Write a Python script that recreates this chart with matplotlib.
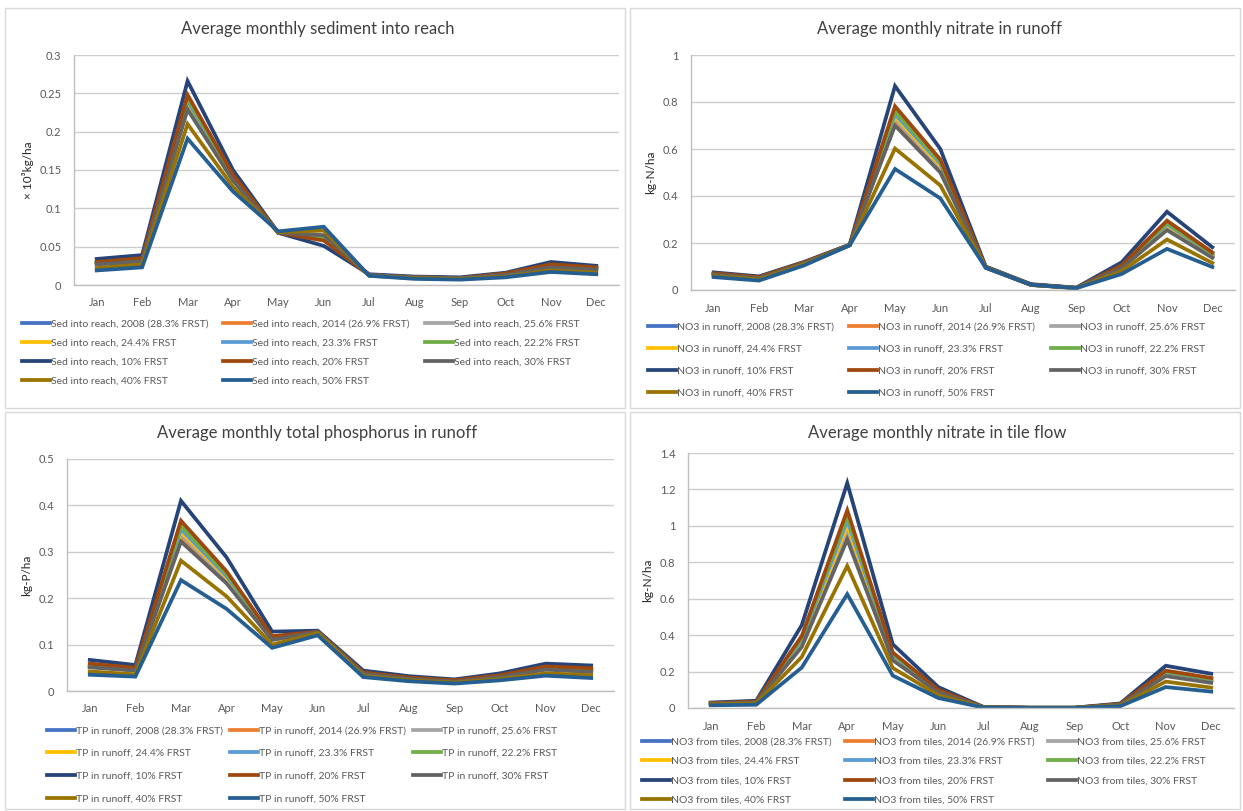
import matplotlib
matplotlib.use("Agg")
import matplotlib.pyplot as plt
from matplotlib.patches import Rectangle
from matplotlib.ticker import MultipleLocator, FuncFormatter

plt.rcParams['font.family'] = ['Lato', 'DejaVu Sans']

W, H = 1243, 811

MONTHS = ["Jan", "Feb", "Mar", "Apr", "May", "Jun", "Jul", "Aug", "Sep", "Oct", "Nov", "Dec"]

SCENARIOS = ["2008 (28.3% FRST)", "2014 (26.9% FRST)", "25.6% FRST", "24.4% FRST",
             "23.3% FRST", "22.2% FRST", "10% FRST", "20% FRST", "30% FRST",
             "40% FRST", "50% FRST"]

# Excel 2013 default palette, in series order
COLORS = ["#4472C4", "#ED7D31", "#A5A5A5", "#FFC000", "#5B9BD5", "#70AD47",
          "#264478", "#9E480E", "#636363", "#997300", "#255E91"]

# values, one row per scenario (same order as SCENARIOS)
SED = [
    [0.027, 0.031, 0.231, 0.137, 0.068, 0.064, 0.013, 0.010, 0.009, 0.013, 0.024, 0.020],
    [0.028, 0.032, 0.233, 0.138, 0.068, 0.064, 0.013, 0.010, 0.009, 0.013, 0.024, 0.021],
    [0.028, 0.032, 0.236, 0.139, 0.068, 0.063, 0.013, 0.010, 0.009, 0.014, 0.025, 0.021],
    [0.028, 0.033, 0.238, 0.140, 0.068, 0.062, 0.013, 0.010, 0.009, 0.014, 0.025, 0.021],
    [0.029, 0.033, 0.240, 0.141, 0.068, 0.061, 0.013, 0.010, 0.009, 0.014, 0.025, 0.022],
    [0.029, 0.034, 0.243, 0.142, 0.068, 0.060, 0.013, 0.010, 0.009, 0.014, 0.026, 0.022],
    [0.034, 0.039, 0.266, 0.150, 0.068, 0.051, 0.014, 0.011, 0.010, 0.016, 0.030, 0.025],
    [0.030, 0.035, 0.248, 0.144, 0.068, 0.058, 0.013, 0.010, 0.009, 0.015, 0.027, 0.023],
    [0.027, 0.031, 0.229, 0.136, 0.068, 0.065, 0.013, 0.010, 0.009, 0.013, 0.023, 0.020],
    [0.022, 0.027, 0.210, 0.128, 0.069, 0.071, 0.012, 0.009, 0.008, 0.011, 0.019, 0.016],
    [0.019, 0.023, 0.191, 0.122, 0.070, 0.076, 0.012, 0.008, 0.007, 0.010, 0.017, 0.014],
]

NO3_RUNOFF = [
    [0.067, 0.051, 0.115, 0.191, 0.705, 0.508, 0.094, 0.022, 0.009, 0.094, 0.260, 0.141],
    [0.068, 0.052, 0.115, 0.191, 0.716, 0.515, 0.095, 0.022, 0.009, 0.096, 0.265, 0.144],
    [0.068, 0.052, 0.116, 0.191, 0.728, 0.522, 0.097, 0.022, 0.009, 0.097, 0.270, 0.147],
    [0.069, 0.053, 0.116, 0.191, 0.738, 0.530, 0.098, 0.023, 0.009, 0.098, 0.275, 0.150],
    [0.069, 0.053, 0.117, 0.192, 0.748, 0.538, 0.098, 0.023, 0.009, 0.100, 0.280, 0.152],
    [0.070, 0.054, 0.117, 0.192, 0.760, 0.545, 0.098, 0.023, 0.009, 0.102, 0.285, 0.155],
    [0.075, 0.058, 0.120, 0.193, 0.868, 0.600, 0.100, 0.025, 0.010, 0.118, 0.333, 0.182],
    [0.071, 0.055, 0.118, 0.192, 0.782, 0.555, 0.098, 0.023, 0.009, 0.105, 0.295, 0.160],
    [0.066, 0.050, 0.114, 0.191, 0.700, 0.500, 0.097, 0.022, 0.009, 0.093, 0.255, 0.137],
    [0.060, 0.045, 0.110, 0.190, 0.602, 0.445, 0.096, 0.021, 0.008, 0.080, 0.215, 0.115],
    [0.055, 0.040, 0.105, 0.190, 0.515, 0.390, 0.095, 0.022, 0.008, 0.068, 0.175, 0.098],
]

TP_RUNOFF = [
    [0.052, 0.045, 0.326, 0.235, 0.111, 0.127, 0.038, 0.027, 0.021, 0.031, 0.048, 0.043],
    [0.053, 0.045, 0.331, 0.238, 0.112, 0.127, 0.038, 0.027, 0.021, 0.031, 0.049, 0.044],
    [0.054, 0.046, 0.337, 0.241, 0.114, 0.127, 0.038, 0.027, 0.021, 0.032, 0.050, 0.045],
    [0.055, 0.047, 0.343, 0.245, 0.115, 0.128, 0.039, 0.028, 0.022, 0.032, 0.050, 0.045],
    [0.056, 0.048, 0.349, 0.248, 0.116, 0.128, 0.039, 0.028, 0.022, 0.033, 0.051, 0.046],
    [0.057, 0.049, 0.356, 0.252, 0.117, 0.128, 0.039, 0.028, 0.022, 0.033, 0.052, 0.047],
    [0.067, 0.056, 0.410, 0.288, 0.128, 0.130, 0.044, 0.032, 0.025, 0.038, 0.059, 0.055],
    [0.059, 0.050, 0.367, 0.258, 0.118, 0.128, 0.040, 0.029, 0.023, 0.034, 0.053, 0.049],
    [0.051, 0.044, 0.322, 0.232, 0.110, 0.127, 0.037, 0.026, 0.020, 0.030, 0.046, 0.041],
    [0.042, 0.036, 0.281, 0.204, 0.100, 0.125, 0.033, 0.023, 0.018, 0.026, 0.038, 0.034],
    [0.035, 0.031, 0.239, 0.177, 0.093, 0.120, 0.030, 0.021, 0.016, 0.023, 0.033, 0.028],
]

NO3_TILES = [
    [0.024, 0.031, 0.345, 0.945, 0.267, 0.087, 0.004, 0.001, 0.001, 0.018, 0.180, 0.143],
    [0.025, 0.031, 0.352, 0.962, 0.272, 0.089, 0.004, 0.001, 0.001, 0.019, 0.184, 0.147],
    [0.025, 0.032, 0.360, 0.985, 0.278, 0.091, 0.004, 0.001, 0.001, 0.019, 0.188, 0.151],
    [0.025, 0.033, 0.368, 1.005, 0.284, 0.093, 0.004, 0.001, 0.001, 0.020, 0.192, 0.154],
    [0.026, 0.033, 0.375, 1.030, 0.290, 0.095, 0.004, 0.001, 0.001, 0.020, 0.196, 0.157],
    [0.026, 0.034, 0.385, 1.055, 0.298, 0.097, 0.004, 0.001, 0.001, 0.021, 0.200, 0.160],
    [0.030, 0.040, 0.455, 1.235, 0.350, 0.115, 0.005, 0.002, 0.002, 0.025, 0.232, 0.188],
    [0.027, 0.035, 0.395, 1.085, 0.305, 0.100, 0.004, 0.001, 0.001, 0.022, 0.205, 0.165],
    [0.024, 0.030, 0.335, 0.925, 0.262, 0.085, 0.004, 0.001, 0.001, 0.018, 0.175, 0.138],
    [0.020, 0.025, 0.280, 0.780, 0.220, 0.070, 0.003, 0.001, 0.001, 0.014, 0.145, 0.112],
    [0.015, 0.018, 0.222, 0.625, 0.178, 0.055, 0.002, 0.000, 0.000, 0.010, 0.115, 0.090],
]

GRID = "#CCCCCC"
TXT = "#595959"


def px_rect(x0, y0, x1, y1):
    # pixel box (top-left origin) -> figure fraction [left, bottom, width, height]
    return [x0 / W, 1 - y1 / H, (x1 - x0) / W, (y1 - y0) / H]


def panel(fig, box, axbox, data, prefix, title, title_xy, ylabel, ylabel_x,
          ymax, ystep, leg_xy, leg_spacing, col_spacing):
    # chart area frame
    x0, y0, x1, y1 = box
    fig.patches.append(Rectangle((x0 / W, 1 - y1 / H), (x1 - x0) / W, (y1 - y0) / H,
                                 transform=fig.transFigure, fill=False,
                                 edgecolor="#D9D9D9", lw=1.0))

    ax = fig.add_axes(px_rect(*axbox))
    lines = []
    for i, row in enumerate(data):
        ln, = ax.plot(range(12), row, color=COLORS[i], lw=2.7,
                      solid_joinstyle="miter", label=prefix + SCENARIOS[i])
        lines.append(ln)

    ax.set_xlim(-0.5, 11.5)
    ax.set_ylim(0, ymax)
    ax.yaxis.set_major_locator(MultipleLocator(ystep))
    ax.yaxis.set_major_formatter(FuncFormatter(lambda v, p: f"{round(v, 3):g}"))
    ax.set_xticks(range(12))
    ax.set_xticklabels(MONTHS)
    ax.grid(axis="y", color=GRID, lw=1.0)
    ax.set_axisbelow(True)
    for s in ["top", "right"]:
        ax.spines[s].set_visible(False)
    for s in ["left", "bottom"]:
        ax.spines[s].set_color("#BFBFBF")
        ax.spines[s].set_linewidth(1.0)
    ax.tick_params(length=0, labelsize=8, colors=TXT)
    ax.tick_params(axis="y", pad=9)
    ax.tick_params(axis="x", pad=9)

    fig.text(title_xy[0] / W, 1 - title_xy[1] / H, title, ha="center", va="center",
             fontsize=12, color="#404040")
    fig.text(ylabel_x / W, 1 - (axbox[1] + axbox[3]) / 2 / H, ylabel, rotation=90,
             ha="center", va="center", fontsize=8.5, color="#262626")

    # Excel fills the legend row by row, matplotlib column by column
    order = [0, 3, 6, 9, 1, 4, 7, 10, 2, 5, 8]
    ax.legend([lines[k] for k in order], [lines[k].get_label() for k in order],
              ncol=3, loc="upper left", bbox_to_anchor=(leg_xy[0] / W, 1 - leg_xy[1] / H),
              bbox_transform=fig.transFigure, frameon=False, fontsize=7.5,
              labelcolor=TXT, handlelength=2.7, handletextpad=0.1,
              borderpad=0, borderaxespad=0, labelspacing=leg_spacing,
              columnspacing=col_spacing)
    return ax


fig = plt.figure(figsize=(W / 100, H / 100), dpi=100)
fig.patch.set_facecolor("white")

panel(fig, (5, 8, 625, 408), (74, 55, 619, 285), SED, "Sed into reach, ",
      "Average monthly sediment into reach", (318, 29), "× 10³kg/ha", 28,
      0.3, 0.05, (22, 319), 0.95, 1.4)

panel(fig, (630, 8, 1240, 408), (691, 55, 1235, 290), NO3_RUNOFF, "NO3 in runoff, ",
      "Average monthly nitrate in runoff", (939, 29), "kg-N/ha", 651,
      1.0, 0.2, (648, 322), 1.22, 1.45)

panel(fig, (5, 412, 625, 809), (67, 459, 614, 691), TP_RUNOFF, "TP in runoff, ",
      "Average monthly total phosphorus in runoff", (317, 433), "kg-P/ha", 27,
      0.5, 0.1, (47, 726), 1.3, 0.65)

panel(fig, (630, 412, 1240, 809), (688, 453, 1234, 708), NO3_TILES, "NO3 from tiles, ",
      "Average monthly nitrate in tile flow", (937, 433), "kg-N/ha", 648,
      1.4, 0.2, (642, 737), 0.98, 1.25)

fig.savefig("out.png", dpi=100)
